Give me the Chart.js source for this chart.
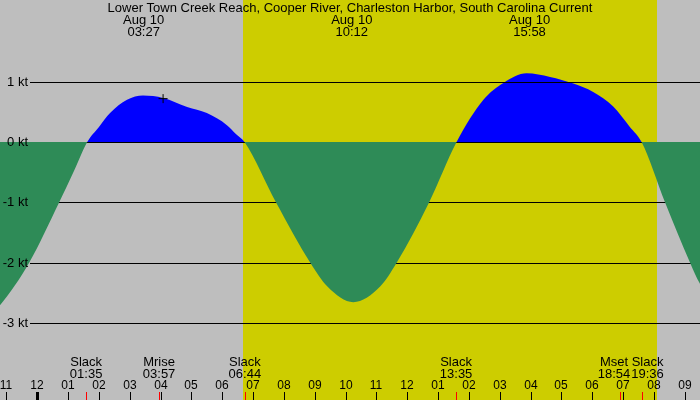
<!DOCTYPE html>
<html>
<head>
<meta charset="utf-8">
<script src="https://cdn.jsdelivr.net/npm/chart.js@4.4.0/dist/chart.umd.min.js"></script>
<style>
  html, body { margin: 0; padding: 0; background: #bebebe; }
  canvas { display: block; }
</style>
</head>
<body>
<canvas id="tideChart" width="700" height="400"></canvas>
<script>
const stationTitle = 'Lower Town Creek Reach, Cooper River, Charleston Harbor, South Carolina Current';
const dateLabel = 'Aug 10';

// hours since midnight Aug 10 -> current speed in knots
const curveHours = [-2.0, -1.5, -1.21, -0.26, 0.71, 1.2, 1.62, 2.0, 2.36, 2.91, 3.43, 4.08, 4.86, 5.5, 6.15, 6.45, 6.72,
  7.74, 8.85, 9.41, 10.25, 11.12, 11.66, 12.71, 13.6, 14.47, 15.12, 15.87, 16.63, 17.39, 18.03, 18.68, 19.22, 19.6,
  20.36, 21.17, 21.49, 22.0];
const curveKnots = [-2.95, -2.85, -2.71, -2.0, -1.0, -0.47, 0, 0.25, 0.48, 0.7, 0.77, 0.73, 0.58, 0.48, 0.28, 0.13, 0,
  -1.0, -2.0, -2.4, -2.66, -2.4, -2.0, -1.0, 0, 0.7, 0.98, 1.14, 1.08, 0.97, 0.83, 0.59, 0.25, 0,
  -1.0, -2.0, -2.35, -2.7];

const peakHours = [3.45, 10.2, 15.967];
const peakLabels = ['03:27', '10:12', '15:58'];

const eventHours = [1.583, 3.95, 6.733, 13.583, 18.9, 19.6];
const eventNames = ['Slack', 'Mrise', 'Slack', 'Slack', 'Mset', 'Slack'];
const eventLabels = ['01:35', '03:57', '06:44', '13:35', '18:54', '19:36'];

const hourTickHours = [-1, 0, 1, 2, 3, 4, 5, 6, 7, 8, 9, 10, 11, 12, 13, 14, 15, 16, 17, 18, 19, 20, 21];
const hourTickLabels = ['11', '12', '01', '02', '03', '04', '05', '06', '07', '08', '09', '10', '11',
  '12', '01', '02', '03', '04', '05', '06', '07', '08', '09'];

const daylightHours = [6.68, 20.1];
const gridKnots = [1, 0, -1, -2, -3];
const gridLabels = ['1 kt', '0 kt', '-1 kt', '-2 kt', '-3 kt'];
const markerHours = [4.08];
const markerKnots = [0.72];

const FONT = '13px "Liberation Sans", Arial, sans-serif';
const HOUR_FONT = '12px "Liberation Sans", Arial, sans-serif';

const tidePlugin = {
  id: 'tideDecor',
  beforeDraw(chart) {
    const { ctx, scales: { x }, width, height } = chart;
    ctx.save();
    ctx.fillStyle = '#bebebe';
    ctx.fillRect(0, 0, width, height);
    const x0 = Math.round(x.getPixelForValue(daylightHours[0]));
    const x1 = Math.round(x.getPixelForValue(daylightHours[1]));
    ctx.fillStyle = '#cdcd00';
    ctx.fillRect(x0, 0, x1 - x0, height);
    ctx.restore();
  },
  afterDatasetDraw(chart, args) {
    // grid lines sit above the flood fill but under the ebb fill
    if (args.index !== 0) return;
    const { ctx, scales: { y }, width } = chart;
    ctx.save();
    ctx.strokeStyle = '#000';
    ctx.lineWidth = 1;
    gridKnots.forEach(v => {
      const py = Math.round(y.getPixelForValue(v)) + 0.5;
      ctx.beginPath();
      ctx.moveTo(30, py);
      ctx.lineTo(width, py);
      ctx.stroke();
    });
    ctx.restore();
  },
  afterDraw(chart) {
    const { ctx, scales: { x, y }, width } = chart;
    ctx.save();
    ctx.font = FONT;
    ctx.fillStyle = '#000';
    ctx.textBaseline = 'middle';

    // y labels
    ctx.textAlign = 'right';
    gridKnots.forEach((v, i) => {
      ctx.fillText(gridLabels[i], 28, Math.round(y.getPixelForValue(v)));
    });

    // title and peak times
    ctx.textAlign = 'center';
    ctx.fillText(stationTitle, width / 2, 8);
    peakHours.forEach((h, i) => {
      const px = x.getPixelForValue(h);
      ctx.fillText(dateLabel, px, 20);
      ctx.fillText(peakLabels[i], px, 32);
    });

    // event labels, nudged apart when they collide
    const pos = eventHours.map(h => x.getPixelForValue(h));
    const widths = eventNames.map((n, i) => Math.max(ctx.measureText(n).width, ctx.measureText(eventLabels[i]).width));
    for (let i = 1; i < pos.length; i++) {
      const need = (widths[i - 1] + widths[i]) / 2 + 1;
      if (pos[i] - pos[i - 1] < need) {
        const mid = (pos[i] + pos[i - 1]) / 2;
        pos[i - 1] = mid - need / 2;
        pos[i] = mid + need / 2;
      }
    }
    pos.forEach((px, i) => {
      ctx.fillText(eventNames[i], px, 362);
      ctx.fillText(eventLabels[i], px, 374);
    });

    // hour labels and ticks
    ctx.font = HOUR_FONT;
    hourTickHours.forEach((h, i) => {
      const px = Math.round(x.getPixelForValue(h));
      ctx.fillText(hourTickLabels[i], px, 386);
      if (h === 0) ctx.fillRect(px - 1, 392, 3, 8);
      else ctx.fillRect(px, 392, 1, 8);
    });
    ctx.fillStyle = '#ff0000';
    eventHours.forEach(h => {
      ctx.fillRect(Math.round(x.getPixelForValue(h)), 392, 1, 8);
    });
    ctx.restore();
  }
};

const points = curveHours.map((h, i) => ({ x: h, y: curveKnots[i] }));

new Chart(document.getElementById('tideChart'), {
  type: 'line',
  data: {
    datasets: [
      {
        data: points,
        borderColor: 'rgba(0,0,0,0)',
        pointRadius: 0,
        cubicInterpolationMode: 'monotone',
        fill: { target: 'origin', above: '#0000ff', below: 'rgba(0,0,0,0)' },
        order: 3
      },
      {
        data: points,
        borderColor: 'rgba(0,0,0,0)',
        pointRadius: 0,
        cubicInterpolationMode: 'monotone',
        fill: { target: 'origin', above: 'rgba(0,0,0,0)', below: '#2e8b57' },
        order: 2
      },
      {
        type: 'scatter',
        data: markerHours.map((h, i) => ({ x: h, y: markerKnots[i] })),
        pointStyle: 'cross',
        pointRadius: 4.5,
        borderColor: '#000',
        borderWidth: 1,
        order: 1
      }
    ]
  },
  options: {
    responsive: false,
    animation: false,
    devicePixelRatio: 1,
    layout: { padding: 0, autoPadding: false },
    plugins: { legend: { display: false }, tooltip: { enabled: false } },
    scales: {
      x: { type: 'linear', min: -1.21, max: 21.495, display: false },
      y: { type: 'linear', min: -4.282, max: 2.357, display: false }
    }
  },
  plugins: [tidePlugin]
});
</script>
</body>
</html>
